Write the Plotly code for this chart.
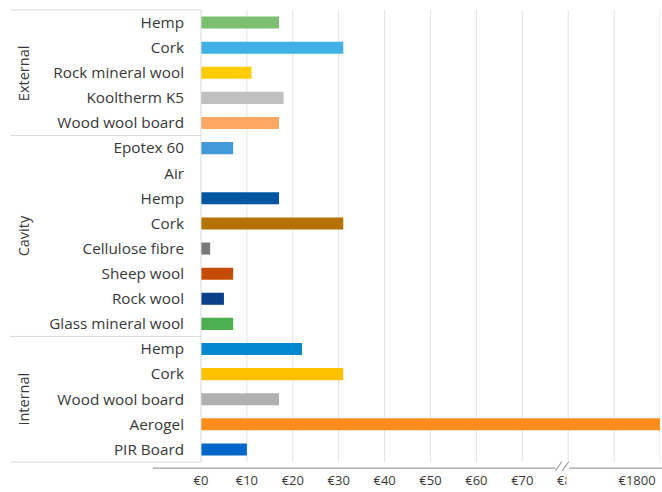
import plotly.graph_objects as go

# Insulation cost per material, grouped by wall position
groups = ["External", "Cavity", "Internal"]
group_sizes = [5, 8, 5]
materials = [
    "Hemp", "Cork", "Rock mineral wool", "Kooltherm K5", "Wood wool board",
    "Epotex 60", "Air", "Hemp", "Cork", "Cellulose fibre", "Sheep wool",
    "Rock wool", "Glass mineral wool",
    "Hemp", "Cork", "Wood wool board", "Aerogel", "PIR Board",
]
costs = [17, 31, 11, 18, 17,
         7, 0, 17, 31, 2, 7, 5, 7,
         22, 31, 17, 1850, 10]
bar_colors = [
    "#7cbf70", "#41b0e4", "#ffcc00", "#c0c0c0", "#ffa866",
    "#4499db", "#ffffff", "#01579f", "#b47200", "#7a7a7a", "#c44b03",
    "#0b3f88", "#4caf50",
    "#0288d1", "#ffc000", "#b0b0b0", "#fd8c1f", "#0066c8",
]
tick_values = [0, 10, 20, 30, 40, 50, 60, 70, 80, 1800]
tick_labels = ["€0", "€10", "€20", "€30", "€40", "€50", "€60", "€70", "€80", "€1800"]

# Broken value axis: linear up to €80, then a compressed segment around €1800
LOW_MAX = 80
HIGH_CENTER_VALUE = 1800
HIGH_CENTER_POS = 95
HIGH_SCALE = 10  # euros per axis unit in the upper segment


def to_axis(v):
    if v <= LOW_MAX:
        return v
    return HIGH_CENTER_POS + (v - HIGH_CENTER_VALUE) / HIGH_SCALE


grid_positions = [10, 20, 30, 40, 50, 60, 70, 80, 90, 100]

TEXT = "#383838"
LINE = "#d9d9d9"
FONT = "Open Sans"

n = len(materials)
rows = list(range(n))

fig = go.Figure(go.Bar(
    x=[to_axis(c) for c in costs],
    y=rows,
    orientation="h",
    marker=dict(color=bar_colors, line=dict(width=0)),
    width=0.48,
    hoverinfo="skip",
))

shapes = []
# gridlines
for g in grid_positions:
    shapes.append(dict(type="line", xref="x", yref="paper", x0=g, x1=g, y0=0, y1=1,
                       line=dict(color="#e3e3e3", width=1), layer="below"))

# category table frame
table_left = -0.415  # paper x of the left edge of the label table
shapes.append(dict(type="line", xref="paper", yref="paper", x0=0, x1=0, y0=0, y1=1,
                   line=dict(color=LINE, width=1)))
bounds = [0]
for s in group_sizes:
    bounds.append(bounds[-1] + s)
for b in bounds:
    yp = 1 - b / n
    shapes.append(dict(type="line", xref="paper", yref="paper", x0=table_left, x1=0,
                       y0=yp, y1=yp, line=dict(color=LINE, width=1)))

# axis baseline with break marks
axis_y = -0.0135
shapes.append(dict(type="line", xref="paper", yref="paper", x0=-0.105, x1=0.772,
                   y0=axis_y, y1=axis_y, line=dict(color="#a0a0a0", width=1.2)))
shapes.append(dict(type="line", xref="paper", yref="paper", x0=0.802, x1=1.01,
                   y0=axis_y, y1=axis_y, line=dict(color="#a0a0a0", width=1.2)))
for x0 in (0.772, 0.787):
    shapes.append(dict(type="line", xref="paper", yref="paper", x0=x0, x1=x0 + 0.014,
                       y0=axis_y - 0.006, y1=axis_y + 0.014,
                       line=dict(color="#a0a0a0", width=1.2)))
# the upper axis segment hides the end of the lower one
shapes.append(dict(type="rect", xref="paper", yref="paper", x0=0.796, x1=0.86,
                   y0=-0.07, y1=-0.02, fillcolor="white", line=dict(width=0),
                   layer="above"))

annotations = []
for i, grp in enumerate(groups):
    mid = (bounds[i] + bounds[i + 1]) / 2
    annotations.append(dict(text=grp, xref="paper", yref="paper",
                            x=-0.387, y=1 - mid / n, textangle=-90,
                            showarrow=False, xanchor="center", yanchor="middle",
                            font=dict(family=FONT, size=14.5, color=TEXT)))

fig.update_layout(
    width=662, height=492,
    margin=dict(l=201, r=2, t=10, b=30),
    paper_bgcolor="white", plot_bgcolor="white",
    showlegend=False,
    bargap=0.5,
    shapes=shapes,
    annotations=annotations,
    xaxis=dict(
        range=[0, 100],
        tickvals=[to_axis(v) for v in tick_values],
        ticktext=tick_labels,
        showgrid=False, zeroline=False, showline=False,
        ticks="", ticklabelstandoff=9,
        tickfont=dict(family=FONT, size=13, color=TEXT),
    ),
    yaxis=dict(
        range=[n - 0.5, -0.5],
        tickvals=rows,
        ticktext=materials,
        showgrid=False, zeroline=False, showline=False,
        ticks="", ticklabelstandoff=16,
        tickfont=dict(family=FONT, size=15.3, color=TEXT),
    ),
)

fig.write_html("out.html")
